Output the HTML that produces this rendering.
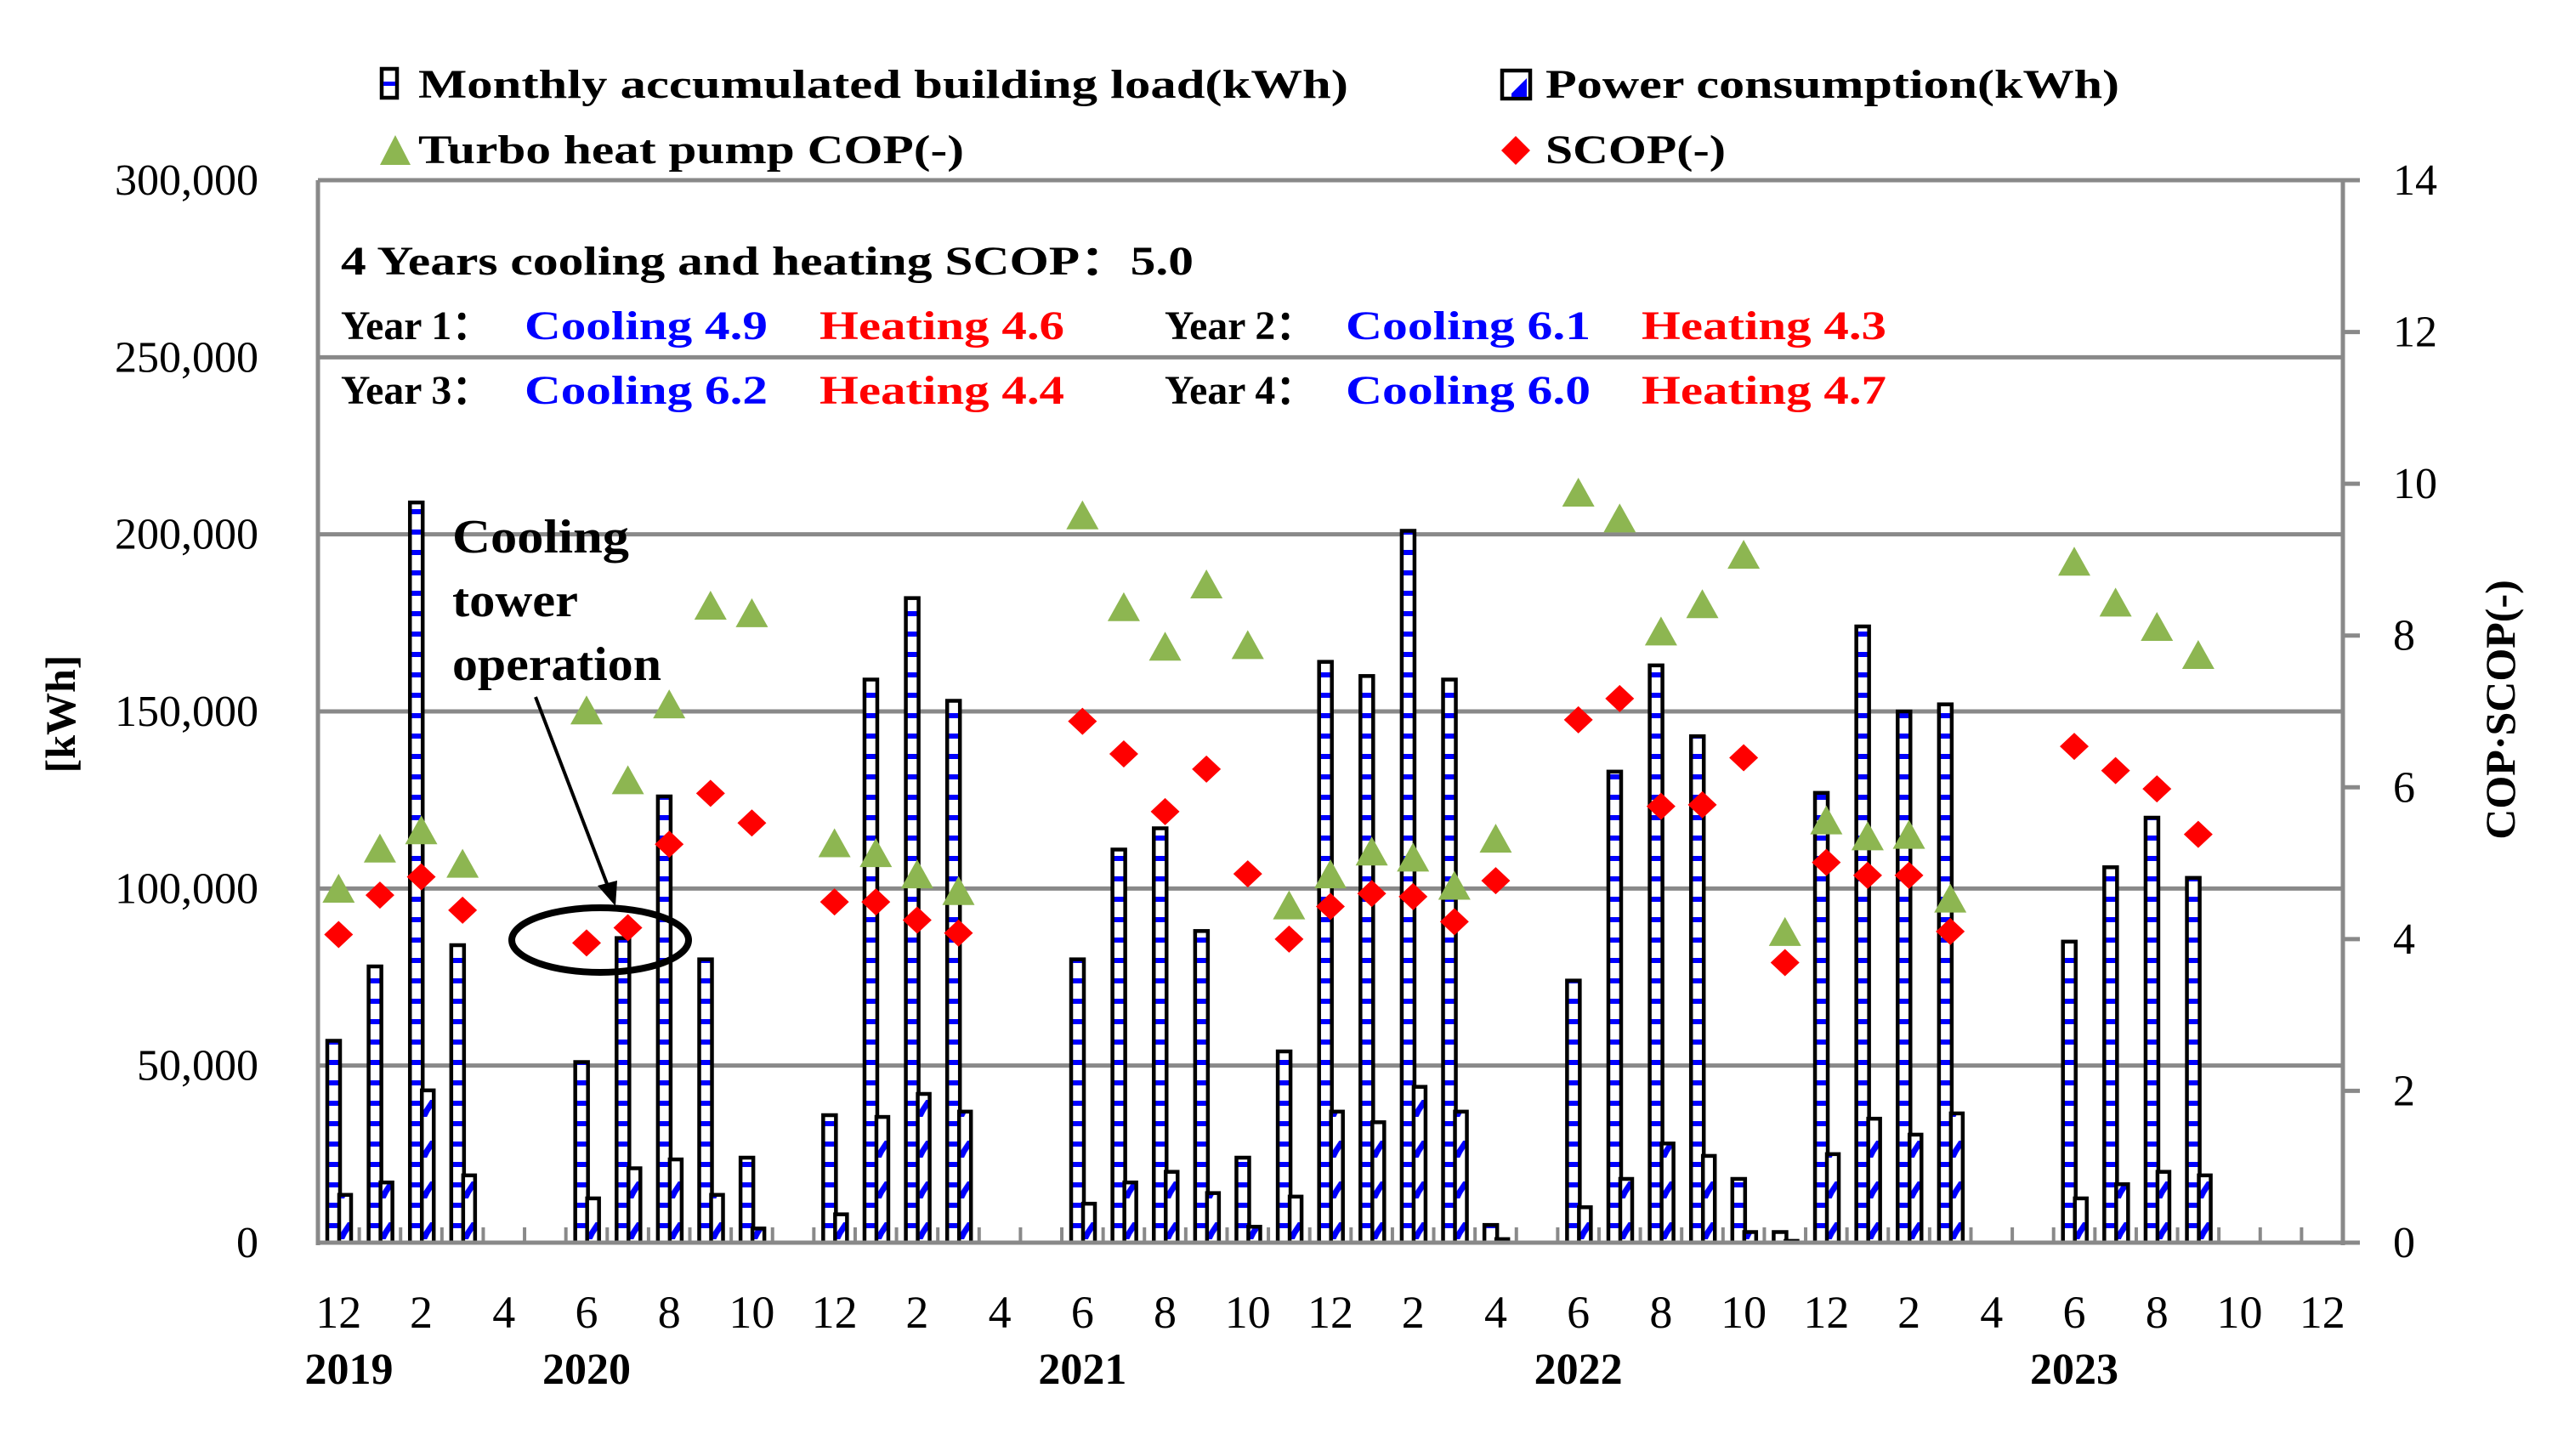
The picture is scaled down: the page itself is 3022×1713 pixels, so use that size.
<!DOCTYPE html>
<html><head><meta charset="utf-8"><style>
html,body{margin:0;padding:0;background:#fff;}
svg{display:block;}
text{font-family:"Liberation Serif",serif;}
</style></head><body>
<svg id="chart" width="3022" height="1713" viewBox="0 0 3022 1713" xmlns="http://www.w3.org/2000/svg">
<defs>
<pattern id="loadPat" patternUnits="userSpaceOnUse" x="0" y="1421" width="10" height="24">
<rect x="0" y="0" width="10" height="24" fill="#fff"/>
<rect x="0" y="18" width="10" height="6" fill="#0000ff"/>
</pattern>
<pattern id="powPat" patternUnits="userSpaceOnUse" x="374" y="1414" width="48.6" height="48">
<rect x="0" y="0" width="48.6" height="48" fill="#fff"/>
<polygon points="27,44 27,36 31,30 35,24 38,24 38,32 34,38 31,44" fill="#0000ff"/>
</pattern>
</defs>
<g id="grid"></g>
<g id="bars"></g>
<g id="axes"></g>
<g id="marks"></g>
<g id="labels"></g>

<g font-weight="bold" font-size="48">
<g>
<rect x="449" y="81" width="18" height="34" fill="#fff" stroke="#000" stroke-width="4.5"/>
<rect x="451" y="96" width="14" height="5" fill="#0000ff"/>
<text x="492" y="115" textLength="1094" lengthAdjust="spacingAndGlyphs">Monthly accumulated building load(kWh)</text>
</g>
<g>
<rect x="1767" y="83" width="33" height="33" fill="#fff" stroke="#000" stroke-width="4.5"/>
<polygon points="1778,110 1796,92 1796,114 1778,114" fill="#0000ff"/>
<text x="1818" y="115" textLength="675" lengthAdjust="spacingAndGlyphs">Power consumption(kWh)</text>
</g>
<g>
<polygon points="447,194 465,159 483,194" fill="#8db651"/>
<text x="492" y="192" textLength="642" lengthAdjust="spacingAndGlyphs">Turbo heat pump COP(-)</text>
</g>
<g>
<polygon points="1783,160 1800,177 1783,194 1766,177" fill="#ff0000"/>
<text x="1818" y="192" textLength="212" lengthAdjust="spacingAndGlyphs">SCOP(-)</text>
</g>
</g>

<g font-weight="bold" font-size="48">
<text x="401" y="323" textLength="1003" lengthAdjust="spacingAndGlyphs">4 Years cooling and heating SCOP：5.0</text>
<text x="401" y="399" textLength="178" lengthAdjust="spacingAndGlyphs">Year 1：</text>
<text x="617" y="399" fill="#0000ff" textLength="286" lengthAdjust="spacingAndGlyphs">Cooling 4.9</text>
<text x="964" y="399" fill="#ff0000" textLength="288" lengthAdjust="spacingAndGlyphs">Heating 4.6</text>
<text x="1370" y="399" textLength="178" lengthAdjust="spacingAndGlyphs">Year 2：</text>
<text x="1583" y="399" fill="#0000ff" textLength="288" lengthAdjust="spacingAndGlyphs">Cooling 6.1</text>
<text x="1931" y="399" fill="#ff0000" textLength="288" lengthAdjust="spacingAndGlyphs">Heating 4.3</text>
<text x="401" y="475" textLength="178" lengthAdjust="spacingAndGlyphs">Year 3：</text>
<text x="617" y="475" fill="#0000ff" textLength="286" lengthAdjust="spacingAndGlyphs">Cooling 6.2</text>
<text x="964" y="475" fill="#ff0000" textLength="288" lengthAdjust="spacingAndGlyphs">Heating 4.4</text>
<text x="1370" y="475" textLength="178" lengthAdjust="spacingAndGlyphs">Year 4：</text>
<text x="1583" y="475" fill="#0000ff" textLength="288" lengthAdjust="spacingAndGlyphs">Cooling 6.0</text>
<text x="1931" y="475" fill="#ff0000" textLength="288" lengthAdjust="spacingAndGlyphs">Heating 4.7</text>
</g>

<g>
<text x="532" y="650" font-weight="bold" font-size="56" textLength="208" lengthAdjust="spacingAndGlyphs">Cooling</text>
<text x="532" y="725" font-weight="bold" font-size="56" textLength="148" lengthAdjust="spacingAndGlyphs">tower</text>
<text x="532" y="800" font-weight="bold" font-size="56" textLength="246" lengthAdjust="spacingAndGlyphs">operation</text>
<line x1="630" y1="820" x2="716" y2="1045" stroke="#000" stroke-width="4"/>
<polygon points="724,1066 703,1042 726,1036" fill="#000"/>
<ellipse cx="706" cy="1106" rx="104" ry="38" fill="none" stroke="#000" stroke-width="8"/>
</g>

<text transform="translate(88,840) rotate(-90)" text-anchor="middle" font-size="50" font-weight="bold">[kWh]</text>
<text transform="translate(2958,835) rotate(-90)" text-anchor="middle" font-size="50" font-weight="bold">COP·SCOP(-)</text>
</svg>
<script>
const months = [12,1,2,3,4,5,6,7,8,9,10,11,12,1,2,3,4,5,6,7,8,9,10,11,12,1,2,3,4,5,6,7,8,9,10,11,12,1,2,3,4,5,6,7,8,9,10,11,12];
const loadValues = [57,78,209,84,null,null,51,86,126,80,24,null,36,159,182,153,null,null,80,111,117,88,24,54,164,160,201,159,5,null,74,133,163,143,18,3,127,174,150,152,null,null,85,106,120,103,null,null,null];
const powerValues = [13.5,17,43,19,null,null,12.5,21,23.5,13.5,4,null,8,35.5,42,37,null,null,11,17,20,14,4.5,13,37,34,44,37,1,null,10,18,28,24.5,3,0.5,25,35,30.5,36.5,null,null,12.5,16.5,20,19,null,null,null];
const copValues = [4.67,5.2,5.44,5.0,null,null,7.02,6.1,7.1,8.4,8.3,null,5.27,5.14,4.86,4.64,null,null,9.59,8.38,7.86,8.68,7.88,4.45,4.86,5.16,5.08,4.71,5.33,null,9.89,9.55,8.06,8.42,9.07,4.1,5.57,5.36,5.38,4.54,null,null,8.98,8.44,8.12,7.75,null,null,null];
const scopValues = [4.06,4.58,4.82,4.38,null,null,3.95,4.15,5.25,5.92,5.53,null,4.49,4.49,4.25,4.08,null,null,6.87,6.44,5.68,6.24,4.86,4.0,4.43,4.6,4.56,4.23,4.77,null,6.89,7.17,5.75,5.77,6.39,3.69,5.01,4.84,4.84,4.1,null,null,6.54,6.22,5.98,5.38,null,null,null];
const yTicks = [0,50000,100000,150000,200000,250000,300000];
const yTickLabels = ["0","50,000","100,000","150,000","200,000","250,000","300,000"];
const y2Ticks = [0,2,4,6,8,10,12,14];
const yearLabels = ["2019","2020","2021","2022","2023"];
const yearIdx = [0.25,6,18,30,42];

const NS = "http://www.w3.org/2000/svg";
const X0 = 374, X1 = 2756, Y0 = 1462, YT = 212;
const cw = (X1 - X0) / months.length;
const yL = v => Y0 - (v / 300000) * (Y0 - YT);
const yR = v => Y0 - (v / 14) * (Y0 - YT);
const xC = i => X0 + i * cw;
function mk(tag, attrs, parent){const e=document.createElementNS(NS,tag);for(const k in attrs)e.setAttribute(k,attrs[k]);parent.appendChild(e);return e;}
const grid=document.getElementById('grid'),bars=document.getElementById('bars'),axes=document.getElementById('axes'),marks=document.getElementById('marks'),labels=document.getElementById('labels');
const G="#898989";

yTicks.forEach((t,i)=>{
  const y=yL(t);
  if(t>0){
    const l=mk('line',{x1:X0,x2:(t===300000?X1+20:X1),y1:y,y2:y,stroke:G,'stroke-width':5},grid);
    
    
  }
  const tx=mk('text',{x:304,y:y+17,'text-anchor':'end','font-size':52},labels);
  tx.textContent=yTickLabels[i];
  
  
});
y2Ticks.forEach(t=>{
  const y=yR(t);
  mk('line',{x1:X1,x2:X1+20,y1:y,y2:y,stroke:G,'stroke-width':5},axes);
  const tx=mk('text',{x:2815,y:y+17,'font-size':52},labels);
  tx.textContent=String(t);
  
  
});

months.forEach((m,i)=>{
  const s=xC(i);
  if(loadValues[i]!=null){
    const v=loadValues[i]*1000;
    const r=mk('rect',{x:s+11,y:yL(v),width:15,height:Y0-yL(v),fill:'url(#loadPat)',stroke:'#000','stroke-width':4.5},bars);
    
    
  }
  if(powerValues[i]!=null){
    const v=powerValues[i]*1000;
    const r=mk('rect',{x:s+25,y:yL(v),width:14,height:Y0-yL(v),fill:'url(#powPat)',stroke:'#000','stroke-width':4.5},bars);
    
    
  }
});
for(let i=1;i<months.length;i++){
  mk('line',{x1:xC(i),x2:xC(i),y1:Y0,y2:Y0-18,stroke:G,'stroke-width':4},axes);
}
const ax=mk('line',{x1:X0,x2:X0,y1:YT,y2:Y0+3,stroke:G,'stroke-width':5},axes);


const ax2=mk('line',{x1:X1,x2:X1,y1:YT,y2:Y0+3,stroke:G,'stroke-width':5},axes);


const xa=mk('line',{x1:X0-2,x2:X1+20,y1:Y0,y2:Y0,stroke:G,'stroke-width':5},axes);



months.forEach((m,i)=>{
  const c=xC(i)+cw/2;
  if(copValues[i]!=null){
    const y=yR(copValues[i]);
    const p=mk('polygon',{points:`${c-19},${y+17} ${c},${y-17} ${c+19},${y+17}`,fill:'#8db651'},marks);
    
    
  }
  if(scopValues[i]!=null){
    const y=yR(scopValues[i]);
    const p=mk('polygon',{points:`${c},${y-16} ${c+17},${y} ${c},${y+16} ${c-17},${y}`,fill:'#ff0000'},marks);
    
    
  }
});

months.forEach((m,i)=>{
  if(i%2===0){
    const t=mk('text',{x:xC(i)+cw/2,y:1562,'text-anchor':'middle','font-size':54},labels);
    t.textContent=String(m);
    
    
  }
});
yearLabels.forEach((yl,k)=>{
  const t=mk('text',{x:xC(yearIdx[k])+cw/2,y:1628,'text-anchor':'middle','font-size':52,'font-weight':'bold'},labels);
  t.textContent=yl;
  
  
});
</script>
</body></html>
